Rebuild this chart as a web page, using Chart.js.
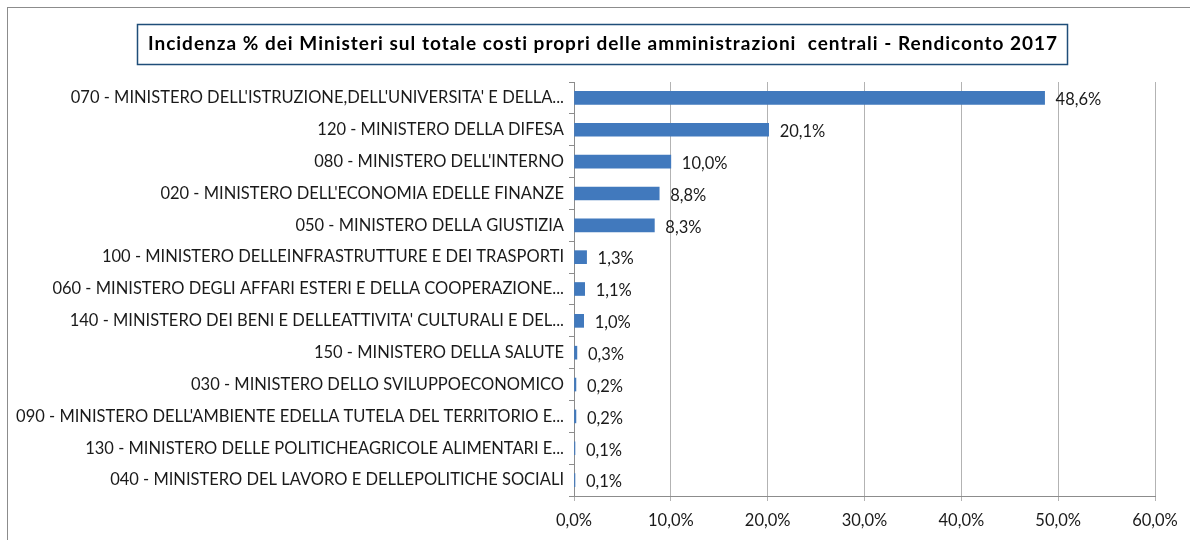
<!DOCTYPE html>
<html>
<head>
<meta charset="utf-8">
<script src="https://cdn.jsdelivr.net/npm/chart.js@4.4.1/dist/chart.umd.min.js"></script>
<style>
html,body{margin:0;padding:0;background:#fff;}
#wrap{position:relative;width:1190px;height:540px;}
</style>
</head>
<body>
<div id="wrap"><canvas id="c" width="1190" height="540"></canvas></div>
<script>
const TITLE = "Incidenza % dei Ministeri sul totale costi propri delle amministrazioni  centrali - Rendiconto 2017";
const categories = [
  "070 - MINISTERO DELL'ISTRUZIONE,DELL'UNIVERSITA' E DELLA...",
  "120 - MINISTERO DELLA DIFESA",
  "080 - MINISTERO DELL'INTERNO",
  "020 - MINISTERO DELL'ECONOMIA EDELLE FINANZE",
  "050 - MINISTERO DELLA GIUSTIZIA",
  "100 - MINISTERO DELLEINFRASTRUTTURE E DEI TRASPORTI",
  "060 - MINISTERO DEGLI AFFARI ESTERI E DELLA COOPERAZIONE...",
  "140 - MINISTERO DEI BENI E DELLEATTIVITA' CULTURALI E DEL...",
  "150 - MINISTERO DELLA SALUTE",
  "030 - MINISTERO DELLO SVILUPPOECONOMICO",
  "090 - MINISTERO DELL'AMBIENTE EDELLA TUTELA DEL TERRITORIO E...",
  "130 - MINISTERO DELLE POLITICHEAGRICOLE ALIMENTARI E...",
  "040 - MINISTERO DEL LAVORO E DELLEPOLITICHE SOCIALI"
];
const values = [48.6, 20.1, 10.0, 8.8, 8.3, 1.3, 1.1, 1.0, 0.3, 0.2, 0.2, 0.1, 0.1];
const xTicks = [0, 10, 20, 30, 40, 50, 60];

const FONT = "Lato,'Open Sans',sans-serif";
const fmt = v => v.toFixed(1).replace('.', ',') + '%';

const framePlugin = {
  id: 'frame',
  beforeDraw(chart) {
    const ctx = chart.ctx;
    ctx.save();
    ctx.fillStyle = '#fff';
    ctx.fillRect(0, 0, chart.width, chart.height);
    ctx.strokeStyle = '#8c8c8c';
    ctx.lineWidth = 1;
    ctx.strokeRect(7.5, 7.5, chart.width + 10, chart.height + 10);
    ctx.restore();
  },
  afterDraw(chart) {
    const ctx = chart.ctx;
    ctx.save();
    ctx.font = "bold 19px " + FONT;
    if ('letterSpacing' in ctx) ctx.letterSpacing = '1px';
    ctx.fillStyle = '#000';
    ctx.textAlign = 'center';
    ctx.textBaseline = 'middle';
    ctx.fillText(TITLE, 603, 44);
    if ('letterSpacing' in ctx) ctx.letterSpacing = '0px';
    ctx.strokeStyle = '#1F4E79';
    ctx.lineWidth = 1.5;
    ctx.strokeRect(137.5, 24.5, 930, 40);
    ctx.restore();
  }
};

const valueLabels = {
  id: 'valueLabels',
  afterDatasetsDraw(chart) {
    const ctx = chart.ctx;
    const meta = chart.getDatasetMeta(0);
    ctx.save();
    ctx.font = "16.5px " + FONT;
    ctx.fillStyle = '#1a1a1a';
    ctx.textAlign = 'left';
    ctx.textBaseline = 'middle';
    meta.data.forEach((bar, i) => {
      ctx.fillText(fmt(values[i]), bar.x + 11, bar.y + 2);
    });
    ctx.restore();
  }
};

new Chart(document.getElementById('c'), {
  type: 'bar',
  data: {
    labels: categories,
    datasets: [{
      data: values,
      backgroundColor: '#4179BD',
      borderWidth: 0,
      barThickness: 13
    }]
  },
  options: {
    indexAxis: 'y',
    responsive: false,
    animation: false,
    devicePixelRatio: 1,
    layout: { padding: { top: 82, right: 35, left: 0, bottom: 0 } },
    plugins: { legend: { display: false }, tooltip: { enabled: false }, title: { display: false } },
    scales: {
      x: {
        min: 0, max: 60,
        afterBuildTicks(scale) { scale.ticks = xTicks.map(v => ({ value: v })); },
        afterFit(scale) { scale.height = 44; },
        ticks: {
          callback: v => fmt(v),
          font: { family: FONT, size: 16.5 },
          color: '#1a1a1a',
          padding: 10,
          maxRotation: 0
        },
        grid: { color: '#b3b3b3', lineWidth: 1, tickLength: 5, drawTicks: true },
        border: { display: true, color: '#8c8c8c' }
      },
      y: {
        afterFit(scale) { scale.width = 574; },
        ticks: {
          font: { family: FONT, size: 16.5 },
          color: '#1a1a1a',
          padding: 5,
          autoSkip: false
        },
        grid: { drawOnChartArea: false, drawTicks: true, tickLength: 5, offset: true, color: '#8c8c8c' },
        border: { display: true, color: '#8c8c8c' }
      }
    }
  },
  plugins: [framePlugin, valueLabels]
});
</script>
</body>
</html>
